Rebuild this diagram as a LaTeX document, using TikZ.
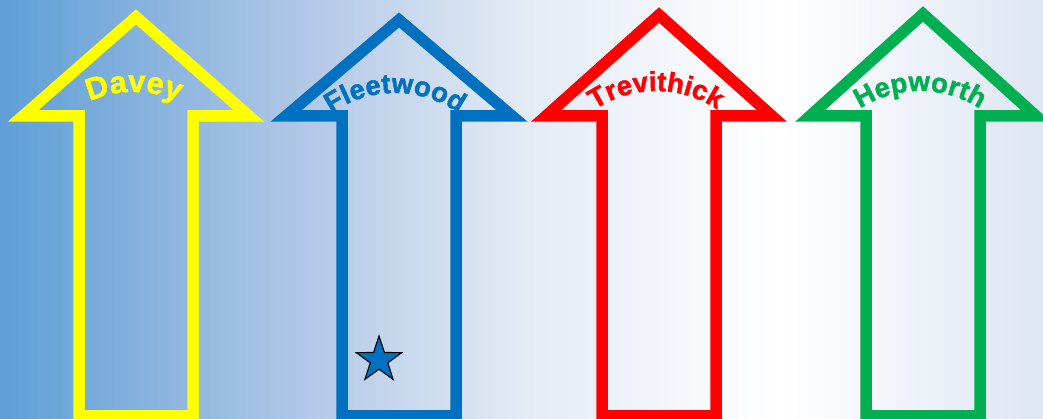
\documentclass[tikz,border=0pt]{standalone}
\usepackage{fontspec}
\usepackage{xcolor}
\usepackage{tikz}
\usetikzlibrary{decorations.text, shapes.geometric}

\newfontfamily\namefont[BoldFeatures={FakeBold=1.6}]{Liberation Sans}
\newcommand{\namestyle}{\namefont\bfseries\fontsize{27.5}{30}\selectfont}
\newcommand{\wideshape}{\namefont\bfseries\fontsize{31}{34}\selectfont}

\definecolor{daveyyellow}{HTML}{FFFF00}
\definecolor{fleetblue}{HTML}{0070C0}
\definecolor{trevred}{HTML}{FF0000}
\definecolor{hepgreen}{HTML}{00B050}

\pgfdeclarehorizontalshading{wallshade}{100bp}{
    rgb(0bp)=(0.37,0.62,0.84);
    rgb(25bp)=(0.37,0.62,0.84);
    rgb(39.4bp)=(0.69,0.78,0.90);
    rgb(50bp)=(0.89,0.92,0.96);
    rgb(62.5bp)=(1,1,1);
    rgb(75bp)=(0.87,0.90,0.95);
    rgb(100bp)=(0.87,0.90,0.95)}

\begin{document}
\begin{tikzpicture}[
    x=1pt, y=1pt,
    house/.style={line width=11.5pt, line join=miter, miter limit=10},
    name arc/.style={decorate, decoration={text along path, text align=center,
                     text={#1}}},
    medal/.style={star, star points=5, star point ratio=2.6,
                  minimum size=48pt, inner sep=0pt,
                  draw=black, line width=1.1pt, fill=fleetblue}
]
\useasboundingbox (0,0) rectangle (1043,419);
%% Background
\shade[shading=wallshade] (0,0) rectangle (1043,419);

%% Davey
\draw[house, daveyyellow] (79,3) -- (79,303) -- (23,303) -- (136,402)
    -- (249,303) -- (193,303) -- (193,3) -- cycle;
\path[name arc={|\wideshape\color{daveyyellow}|Davey}]
    (134,217) ++(140:110) arc[start angle=140, end angle=40, radius=110];

%% Fleetwood
\draw[house, fleetblue] (342,3) -- (342,303) -- (286,303) -- (399,399)
    -- (512,303) -- (456,303) -- (456,3) -- cycle;
\path[name arc={|\namestyle\color{fleetblue}|Fleetwood}]
    (395,216) ++(140:110) arc[start angle=140, end angle=40, radius=110];
\node[medal] (star) at (379,59) {};

%% Trevithick
\draw[house, trevred] (602,3) -- (602,303) -- (546,303) -- (659,404)
    -- (772,303) -- (716,303) -- (716,3) -- cycle;
\path[name arc={|\namestyle\color{trevred}|Trevithick}]
    (656,218) ++(140:110) arc[start angle=140, end angle=40, radius=110];

%% Hepworth
\draw[house, hepgreen] (866,3) -- (866,303) -- (810,303) -- (923,405)
    -- (1036,303) -- (980,303) -- (980,3) -- cycle;
\path[name arc={|\namestyle\color{hepgreen}|Hepworth}]
    (920,218) ++(140:110) arc[start angle=140, end angle=40, radius=110];
\end{tikzpicture}
\end{document}
